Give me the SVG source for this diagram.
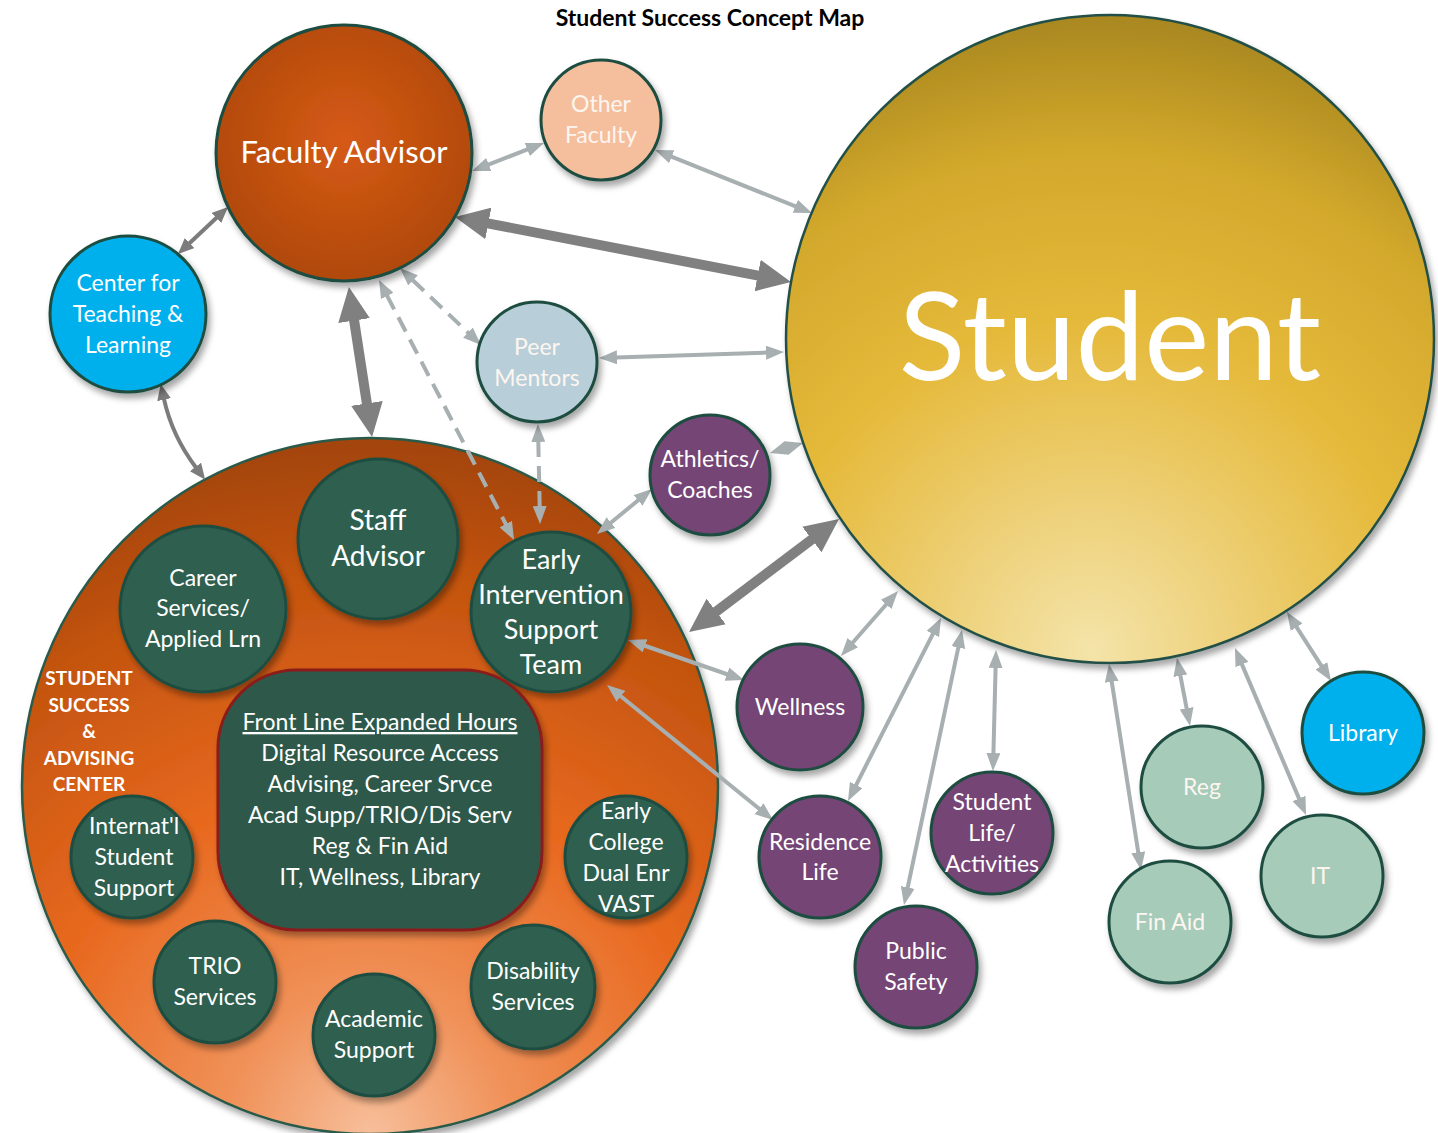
<svg xmlns="http://www.w3.org/2000/svg" width="1438" height="1133" viewBox="0 0 1438 1133">
  <style>
    text { font-family: Lato, "Open Sans", "Liberation Sans", sans-serif; fill: #ffffff; text-anchor: middle; }
    .title { fill: #000000; font-weight: 700; font-size: 23px; }
    .lbl { font-size: 23px; }
    .soft { fill: #fdf6f0; }
    .ctr { font-weight: 700; font-size: 19px; }
    .node { stroke: #1f4d40; stroke-width: 3; filter: url(#shadow); }
    .green { fill: #2e5e4f; }
    .purple { fill: #744476; }
    .mint { fill: #a6cbb9; }
    .cyan { fill: #00b0ec; }
    .light { fill: none; stroke: #a7afb1; stroke-width: 4; marker-start: url(#hl); marker-end: url(#hl); }
    .dash { stroke-dasharray: 16 9; }
    .mid { fill: none; stroke: #7c7c7c; stroke-width: 4; marker-start: url(#hm); marker-end: url(#hm); }
    .thick { fill: none; stroke: #808080; stroke-width: 10; marker-start: url(#ht); marker-end: url(#ht); }
  </style>
  <defs>
    <filter id="shadow" x="-20%" y="-20%" width="140%" height="140%">
      <feDropShadow dx="3" dy="5" stdDeviation="3" flood-color="#000000" flood-opacity="0.35"/>
    </filter>
    <radialGradient id="gFaculty" cx="0.5" cy="0.45" r="0.55">
      <stop offset="0" stop-color="#d65a14"/>
      <stop offset="1" stop-color="#b0490d"/>
    </radialGradient>
    <radialGradient id="gStudent" cx="0.47" cy="0.98" r="1.02">
      <stop offset="0" stop-color="#f4e4a9"/>
      <stop offset="0.2" stop-color="#eed27d"/>
      <stop offset="0.5" stop-color="#e5b939"/>
      <stop offset="0.76" stop-color="#d2a82c"/>
      <stop offset="1" stop-color="#a1811d"/>
    </radialGradient>
    <radialGradient id="gCenter" cx="0.5" cy="1" r="1">
      <stop offset="0" stop-color="#f7bf9b"/>
      <stop offset="0.2" stop-color="#f0925a"/>
      <stop offset="0.5" stop-color="#e8691f"/>
      <stop offset="0.8" stop-color="#c4540f"/>
      <stop offset="1" stop-color="#a2440c"/>
    </radialGradient>
    <marker id="hl" viewBox="0 0 18 14" markerWidth="18" markerHeight="14" refX="1" refY="7" orient="auto-start-reverse" markerUnits="userSpaceOnUse">
      <path d="M0,0 L18,7 L0,14 Z" fill="#a7afb1"/>
    </marker>
    <marker id="hm" viewBox="0 0 16 14" markerWidth="16" markerHeight="14" refX="1" refY="7" orient="auto-start-reverse" markerUnits="userSpaceOnUse">
      <path d="M0,0 L16,7 L0,14 Z" fill="#7c7c7c"/>
    </marker>
    <marker id="ht" viewBox="0 0 34 32" markerWidth="34" markerHeight="32" refX="2" refY="16" orient="auto-start-reverse" markerUnits="userSpaceOnUse">
      <path d="M0,0 L34,16 L0,32 Z" fill="#808080"/>
    </marker>
  </defs>

  <rect width="1438" height="1133" fill="#ffffff"/>
  <text class="title" x="710" y="26">Student Success Concept Map</text>

  <!-- Student Success & Advising Center (container) -->
  <g id="advising-center">
    <circle cx="370" cy="786" r="348" fill="url(#gCenter)" stroke="#2a5a4a" stroke-width="2.5" filter="url(#shadow)"/>
    <text class="ctr" x="89" y="685">STUDENT</text>
    <text class="ctr" x="89" y="712">SUCCESS</text>
    <text class="ctr" x="89" y="738">&amp;</text>
    <text class="ctr" x="89" y="765">ADVISING</text>
    <text class="ctr" x="89" y="791">CENTER</text>
  </g>

  <!-- Connectors -->
  <g id="connectors">
    <path class="thick" d="M486.4,223.1 L759.6,275.9"/>
    <path class="thick" d="M353.8,318.6 L367.2,405.4"/>
    <path class="thick" d="M714.6,612.7 L813.4,538.3"/>
    <path class="mid" d="M217.1,217.3 L188.9,243.7"/>
    <path class="mid" d="M163.9,398.7 Q172,436 196.1,467.7"/>
    <path class="light" d="M487.8,164.8 L528.2,149.2"/>
    <path class="light" d="M670.8,156.3 L796.2,206.7"/>
    <path class="light" d="M616,357.4 L767,352.6"/>
    <path class="light dash" d="M412.3,279.7 L468.7,333.3"/>
    <path class="light dash" d="M386.8,295.1 L506.2,524.9"/>
    <path class="light dash" d="M538.3,441 L539.7,507"/>
    <polygon points="770,453 788.5,454.7 803,443 784.5,441.3" fill="#a7afb1"/>
    <path class="light" d="M638.8,499.8 L610.2,523.2"/>
    <path class="light" d="M644.1,645.5 L727.9,674.5"/>
    <path class="light" d="M620.2,695.7 L759.8,809.3"/>
    <path class="light" d="M886.8,603.8 L852.2,643.2"/>
    <path class="light" d="M933.3,633.2 L855.7,785.8"/>
    <path class="light" d="M958.5,646.6 L907.5,888.4"/>
    <path class="light" d="M995.6,667 L993.4,754"/>
    <path class="light" d="M1111.6,680.8 L1138.4,853.2"/>
    <path class="light" d="M1180.2,674.7 L1186.8,709.3"/>
    <path class="light" d="M1241.6,663.6 L1299.4,799.4"/>
    <path class="light" d="M1296.1,626.3 L1321.9,666.7"/>
  </g>

  <g id="student">
    <circle cx="1110" cy="339" r="324" fill="url(#gStudent)" stroke="#245046" stroke-width="2.5" filter="url(#shadow)"/>
    <text x="1110" y="380" font-size="123">Student</text>
  </g>

  <g id="faculty-advisor">
    <circle class="node" cx="344" cy="153" r="128" fill="url(#gFaculty)"/>
    <text x="344" y="163" font-size="31">Faculty Advisor</text>
  </g>

  <g id="other-faculty">
    <circle class="node" cx="601" cy="120" r="60" fill="#f5bf9e"/>
    <text class="lbl soft" x="601" y="112">Other</text>
    <text class="lbl soft" x="601" y="143">Faculty</text>
  </g>

  <g id="teaching-learning">
    <circle class="node cyan" cx="128" cy="314" r="78"/>
    <text class="lbl" x="128" y="291">Center for</text>
    <text class="lbl" x="128" y="322">Teaching &amp;</text>
    <text class="lbl" x="128" y="353">Learning</text>
  </g>

  <g id="peer-mentors">
    <circle class="node" cx="537" cy="362" r="60" fill="#b8ced8"/>
    <text class="lbl soft" x="537" y="355">Peer</text>
    <text class="lbl soft" x="537" y="386">Mentors</text>
  </g>

  <g id="staff-advisor">
    <circle class="node green" cx="378" cy="539" r="80"/>
    <text x="378" y="530" font-size="28">Staff</text>
    <text x="378" y="566" font-size="28">Advisor</text>
  </g>

  <g id="career-services">
    <circle class="node green" cx="203" cy="609" r="83"/>
    <text class="lbl" x="203" y="586">Career</text>
    <text class="lbl" x="203" y="616">Services/</text>
    <text class="lbl" x="203" y="647">Applied Lrn</text>
  </g>

  <g id="early-intervention">
    <circle class="node green" cx="551" cy="612" r="80"/>
    <text x="551" y="569" font-size="27">Early</text>
    <text x="551" y="604" font-size="27">Intervention</text>
    <text x="551" y="639" font-size="27">Support</text>
    <text x="551" y="674" font-size="27">Team</text>
  </g>

  <g id="front-line">
    <rect x="218" y="670" width="324" height="260" rx="78" ry="78" fill="#2e5848" stroke="#8b1c1c" stroke-width="3" filter="url(#shadow)"/>
    <text class="lbl" x="380" y="730" text-decoration="underline">Front Line Expanded Hours</text>
    <text class="lbl" x="380" y="761">Digital Resource Access</text>
    <text class="lbl" x="380" y="792">Advising, Career Srvce</text>
    <text class="lbl" x="380" y="823">Acad Supp/TRIO/Dis Serv</text>
    <text class="lbl" x="380" y="854">Reg &amp; Fin Aid</text>
    <text class="lbl" x="380" y="885">IT, Wellness, Library</text>
  </g>

  <g id="international">
    <circle class="node green" cx="132" cy="857" r="61"/>
    <text class="lbl" x="134" y="834">Internat'l</text>
    <text class="lbl" x="134" y="865">Student</text>
    <text class="lbl" x="134" y="896">Support</text>
  </g>

  <g id="early-college">
    <circle class="node green" cx="626" cy="857" r="61"/>
    <text class="lbl" x="626" y="819">Early</text>
    <text class="lbl" x="626" y="850">College</text>
    <text class="lbl" x="626" y="881">Dual Enr</text>
    <text class="lbl" x="626" y="912">VAST</text>
  </g>

  <g id="trio">
    <circle class="node green" cx="215" cy="982" r="61"/>
    <text class="lbl" x="215" y="974">TRIO</text>
    <text class="lbl" x="215" y="1005">Services</text>
  </g>

  <g id="academic-support">
    <circle class="node green" cx="374" cy="1035" r="61"/>
    <text class="lbl" x="374" y="1027">Academic</text>
    <text class="lbl" x="374" y="1058">Support</text>
  </g>

  <g id="disability">
    <circle class="node green" cx="533" cy="987" r="62"/>
    <text class="lbl" x="533" y="979">Disability</text>
    <text class="lbl" x="533" y="1010">Services</text>
  </g>

  <g id="athletics">
    <circle class="node purple" cx="710" cy="475" r="60"/>
    <text class="lbl" x="710" y="467">Athletics/</text>
    <text class="lbl" x="710" y="498">Coaches</text>
  </g>

  <g id="wellness">
    <circle class="node purple" cx="800" cy="707" r="63"/>
    <text class="lbl" x="800" y="715">Wellness</text>
  </g>

  <g id="residence-life">
    <circle class="node purple" cx="820" cy="857" r="61"/>
    <text class="lbl" x="820" y="850">Residence</text>
    <text class="lbl" x="820" y="880">Life</text>
  </g>

  <g id="public-safety">
    <circle class="node purple" cx="916" cy="967" r="61"/>
    <text class="lbl" x="916" y="959">Public</text>
    <text class="lbl" x="916" y="990">Safety</text>
  </g>

  <g id="student-life">
    <circle class="node purple" cx="992" cy="833" r="61"/>
    <text class="lbl" x="992" y="810">Student</text>
    <text class="lbl" x="992" y="841">Life/</text>
    <text class="lbl" x="992" y="872">Activities</text>
  </g>

  <g id="reg">
    <circle class="node mint" cx="1202" cy="787" r="61"/>
    <text class="lbl soft" x="1202" y="795">Reg</text>
  </g>

  <g id="fin-aid">
    <circle class="node mint" cx="1170" cy="922" r="61"/>
    <text class="lbl soft" x="1170" y="930">Fin Aid</text>
  </g>

  <g id="it">
    <circle class="node mint" cx="1322" cy="876" r="61"/>
    <text class="lbl soft" x="1320" y="884">IT</text>
  </g>

  <g id="library">
    <circle class="node cyan" cx="1363" cy="733" r="61"/>
    <text class="lbl" x="1363" y="741">Library</text>
  </g>
</svg>
